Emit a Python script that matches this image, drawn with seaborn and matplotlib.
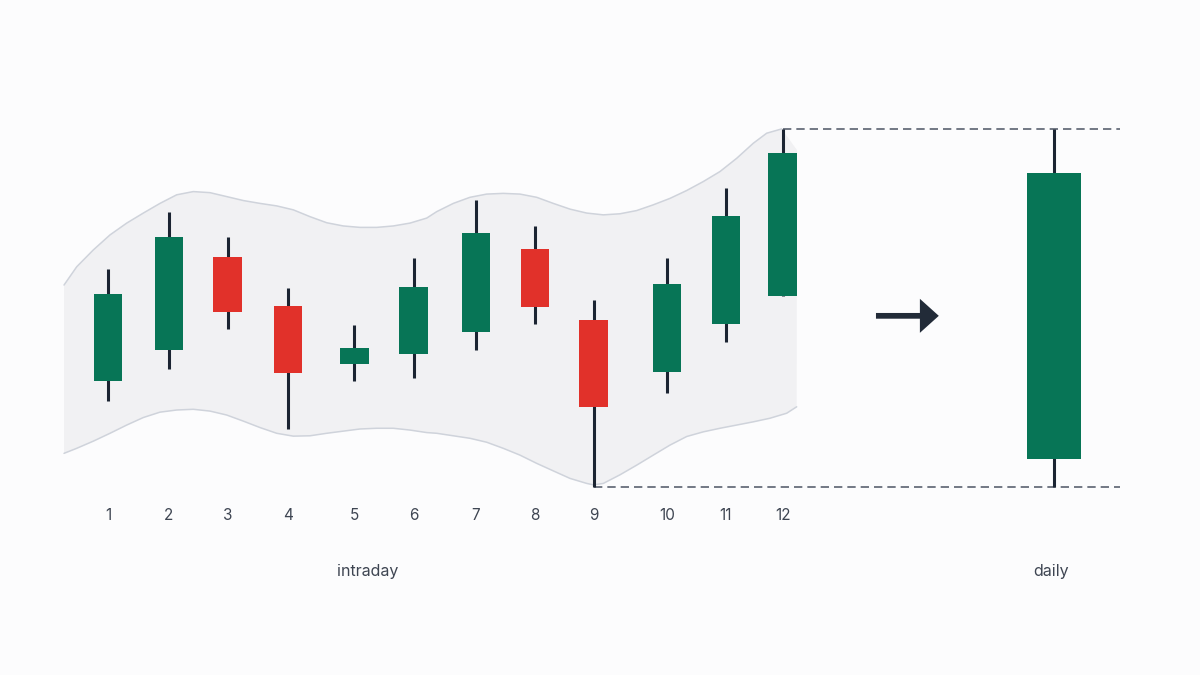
import matplotlib
matplotlib.use("Agg")
import matplotlib.pyplot as plt
import pandas as pd
import seaborn as sns

sns.set_theme(style="white")
plt.rcParams["font.family"] = ["Inter", "DejaVu Sans"]

# intraday candles (price units)
sessions = ["1", "2", "3", "4", "5", "6", "7", "8", "9", "10", "11", "12"]
positions = [1.00, 2.00, 2.96, 3.95, 5.04, 6.01, 7.03, 8.00, 8.96, 10.16, 11.13, 12.06]
opens = [129.5, 138.2, 164.1, 150.6, 134.4, 137.2, 143.3, 166.5, 146.5, 132.1, 145.4, 153.2]
closes = [153.8, 169.7, 149.0, 131.9, 138.8, 155.8, 170.9, 150.3, 122.4, 156.6, 175.8, 193.3]
highs = [160.8, 176.9, 169.7, 155.7, 145.3, 163.9, 180.1, 172.9, 152.2, 163.9, 183.4, 200.0]
lows = [124.1, 133.0, 144.2, 116.1, 129.6, 130.4, 138.2, 145.4, 100.0, 126.2, 140.6, 153.2]

# aggregated daily candle
daily_pos = 16.51
daily_open, daily_close, daily_high, daily_low = 107.9, 187.6, 200.0, 100.0

# envelope around the intraday moves
band_upper_x = [0.279, 0.487, 0.759, 1.033, 1.307, 1.579, 1.852, 2.126, 2.398, 2.672,
                2.946, 3.218, 3.492, 3.766, 4.038, 4.311, 4.585, 4.857, 5.131, 5.405,
                5.677, 5.951, 6.225, 6.389, 6.661, 6.934, 7.208, 7.480, 7.754, 8.028,
                8.300, 8.574, 8.848, 9.120, 9.393, 9.667, 9.939, 10.213, 10.487, 10.759,
                11.033, 11.307, 11.579, 11.798, 12.044, 12.295]
band_upper_y = [156.4, 161.5, 166.2, 170.4, 173.7, 176.5, 179.2, 181.6, 182.5, 182.2,
                181.1, 180.0, 179.2, 178.5, 177.4, 175.5, 173.8, 172.9, 172.5, 172.5,
                172.9, 173.7, 175.1, 176.9, 179.2, 180.9, 181.8, 182.0, 181.8, 180.9,
                179.2, 177.6, 176.5, 176.0, 176.3, 177.2, 178.8, 180.6, 182.8, 185.3,
                188.1, 191.8, 196.0, 198.8, 200.0, 194.1]
band_lower_x = [0.279, 0.487, 0.759, 1.033, 1.307, 1.579, 1.852, 2.126, 2.398, 2.672,
                2.946, 3.218, 3.492, 3.766, 4.038, 4.311, 4.585, 4.857, 5.131, 5.405,
                5.677, 5.951, 6.225, 6.389, 6.661, 6.934, 7.208, 7.480, 7.754, 8.028,
                8.300, 8.574, 8.848, 8.956, 9.120, 9.393, 9.667, 9.939, 10.213, 10.487,
                10.759, 11.033, 11.307, 11.579, 11.852, 12.126, 12.290]
band_lower_y = [109.4, 110.8, 112.8, 115.0, 117.3, 119.4, 120.9, 121.5, 121.7, 121.2,
                120.1, 118.4, 116.6, 115.0, 114.2, 114.3, 115.0, 115.6, 116.2, 116.4,
                116.4, 115.9, 115.2, 115.0, 114.3, 113.6, 112.5, 110.8, 108.9, 106.6,
                104.5, 102.4, 101.0, 100.6, 101.0, 103.4, 106.1, 108.9, 111.7, 114.1,
                115.4, 116.4, 117.3, 118.2, 119.2, 120.6, 122.4]

GREEN = "#077556"
RED = "#e1312a"
WICK = "#1b2432"
TEXT = "#3e4552"
BG = "#fcfcfd"

df = pd.DataFrame({"session": sessions, "x": positions, "open": opens,
                   "close": closes, "high": highs, "low": lows})
df["color"] = [GREEN if c >= o else RED for o, c in zip(df["open"], df["close"])]

fig = plt.figure(figsize=(12, 6.75), dpi=100, facecolor=BG)
ax = fig.add_axes([0, 175 / 675, 1, 500 / 675])
ax.set_facecolor(BG)

# envelope
poly_x = band_upper_x + band_lower_x[::-1]
poly_y = band_upper_y + band_lower_y[::-1]
ax.fill(poly_x, poly_y, color="#f1f1f3", lw=0, zorder=0)
ax.plot(band_upper_x[:-1], band_upper_y[:-1], color="#cfd3db", lw=1.1, zorder=1,
        solid_joinstyle="round")
ax.plot(band_lower_x, band_lower_y, color="#cfd3db", lw=1.1, zorder=1,
        solid_joinstyle="round")

# dashed guides from intraday extremes to daily candle
x_end = daily_pos + 1.08
hi_x = df.loc[df["high"].idxmax(), "x"]
lo_x = df.loc[df["low"].idxmin(), "x"]
for y0, x0 in [(daily_high, hi_x), (daily_low, lo_x)]:
    ln, = ax.plot([x0, x_end], [y0, y0], color="#5b6270", lw=1.2, zorder=1)
    ln.set_dashes((5, 3))

# intraday candles
ax.vlines(df["x"], df["low"], df["high"], color=WICK, lw=2.2, zorder=2)
ax.bar(df["x"], df["close"] - df["open"], bottom=df["open"], width=0.467,
       color=df["color"], lw=0, zorder=3)

# daily candle
ax.vlines(daily_pos, daily_low, daily_high, color=WICK, lw=2.2, zorder=2)
ax.bar(daily_pos, daily_close - daily_open, bottom=daily_open, width=0.895,
       color=GREEN if daily_close >= daily_open else RED, lw=0, zorder=3)

# arrow
ax.arrow(13.59, 147.8, 1.03, 0, width=1.6, head_width=9.5, head_length=0.31,
         length_includes_head=True, color="#222b38", lw=0, zorder=3)

ax.set_xlim(-0.7705, 18.902)
ax.set_ylim(96.37, 236.0)
ax.set_xticks(df["x"])
ax.set_xticklabels(df["session"])
ax.set_yticks([])
ax.tick_params(axis="x", length=0, pad=6, labelsize=11, labelcolor=TEXT)
for s in ax.spines.values():
    s.set_visible(False)
ax.grid(False)

ax.text(5.25, 76.3, "intraday", ha="center", va="center", fontsize=11.5,
        color=TEXT, clip_on=False)
ax.text(daily_pos - 0.05, 76.3, "daily", ha="center", va="center", fontsize=11.5,
        color=TEXT, clip_on=False)

fig.savefig("out.png", dpi=100, facecolor=BG)
